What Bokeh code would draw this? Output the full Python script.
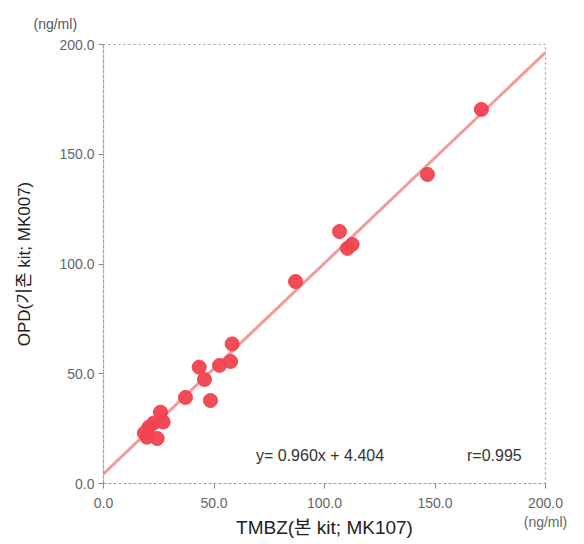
from bokeh.plotting import figure
from bokeh.models import Range1d, Label, FixedTicker, CustomJSTickFormatter, Title
from bokeh.embed import file_html
from bokeh.resources import INLINE
import numpy as np

x_vals = [171.0, 146.6, 106.8, 110.4, 112.5, 86.9, 58.2, 57.5, 52.5, 43.3,
          45.7, 37.1, 48.4, 25.8, 27.0, 22.8, 20.5, 19.7, 24.3, 18.5]
y_vals = [170.4, 140.8, 114.8, 107.1, 108.9, 92.0, 63.6, 55.6, 53.8, 53.0,
          47.4, 39.2, 37.8, 32.5, 28.0, 27.6, 25.6, 21.1, 20.5, 23.0]
slope = 0.960
intercept = 4.404
r_value = 0.995
ticks = [0, 50, 100, 150, 200]
x_title = "TMBZ(본 kit; MK107)"
y_title = "OPD(기존 kit; MK007)"
unit = "(ng/ml)"

FONT = "'Liberation Sans', 'Noto Sans CJK KR'"

p = figure(width=584, height=544, output_backend="svg", toolbar_location=None,
           x_range=Range1d(0, 200), y_range=Range1d(0, 200),
           min_border_left=103, min_border_right=39, min_border_top=44, min_border_bottom=61)
p.frame_width = 442
p.frame_height = 439

p.grid.visible = False
p.outline_line_color = "#999999"
p.outline_line_dash = "2 3"
p.outline_line_width = 1.2

for ax in (p.xaxis[0], p.yaxis[0]):
    ax.ticker = FixedTicker(ticks=ticks)
    ax.axis_line_color = "#999999"
    ax.axis_line_dash = "2 3"
    ax.axis_line_width = 1.2
    ax.major_tick_line_color = "#888888"
    ax.major_tick_out = 5
    ax.major_tick_in = 0
    ax.minor_tick_line_color = None
    ax.major_label_text_color = "#666666"
    ax.major_label_text_font = FONT
    ax.major_label_text_font_size = "14px"
    ax.axis_label_text_font = FONT
    ax.axis_label_text_font_style = "normal"
    ax.axis_label_text_color = "#222222"

p.yaxis.formatter = CustomJSTickFormatter(code="return tick.toFixed(1);")
p.xaxis.formatter = CustomJSTickFormatter(
    args=dict(unit=unit, last=ticks[-1]),
    code="return tick == last ? tick.toFixed(1) + '\\n' + unit : tick.toFixed(1);")

p.xaxis.axis_label = x_title
p.yaxis.axis_label = y_title
p.xaxis.axis_label_text_font_size = "19px"
p.yaxis.axis_label_text_font_size = "17px"
p.xaxis.major_label_standoff = 6
p.yaxis.major_label_standoff = 4
p.xaxis.axis_label_standoff = -16
p.yaxis.axis_label_standoff = 22

p.add_layout(Title(text=unit, align="left", offset=-70, standoff=26,
                   text_font=FONT, text_font_size="14px", text_font_style="normal",
                   text_color="#555555"), "above")

lx = np.array([0, 200])
p.line(lx, slope * lx + intercept, line_color="#f08a8a", line_width=3, line_alpha=0.85)
p.scatter(x_vals, y_vals, size=14, fill_color="#f0424f", line_color="#f0424f", fill_alpha=0.95)

p.add_layout(Label(x=69, y=12.8, text=f"y= {slope:.3f}x + {intercept:.3f}",
                   text_font=FONT, text_font_size="16px", text_color="#333333",
                   text_baseline="middle"))
p.add_layout(Label(x=164.5, y=12.8, text=f"r={r_value:.3f}",
                   text_font=FONT, text_font_size="16px", text_color="#333333",
                   text_baseline="middle"))

open("out.html", "w").write(file_html(p, INLINE))
